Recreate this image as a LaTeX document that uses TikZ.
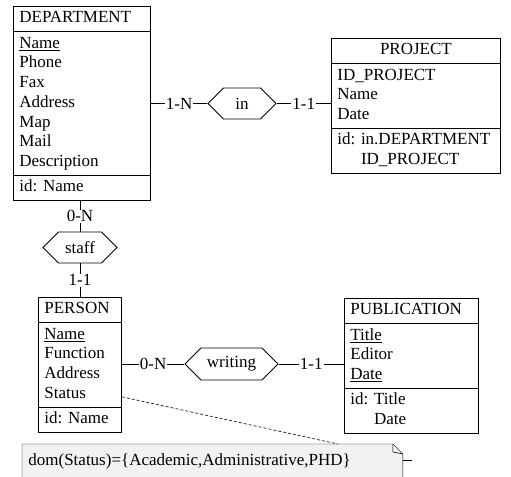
\documentclass[tikz,border=0pt]{standalone}
\usepackage{fontspec}
\setmainfont{Liberation Serif}
\usetikzlibrary{shapes.multipart,shapes.symbols,backgrounds}
\frenchspacing

\begin{document}
\begin{tikzpicture}[x=1bp,y=-1bp,line width=0.8bp,
                    font=\fontsize{17bp}{19.7bp}\selectfont]

  \tikzstyle{entity}=[rectangle split,rectangle split parts=3,draw,anchor=north west,
                      align=left,inner xsep=6bp,inner ysep=2.4bp]
  \tikzstyle{rel}=[signal,signal to=east and west,draw,inner sep=0pt]
  \tikzstyle{card}=[fill=white,inner sep=1bp]
  \tikzstyle{memo}=[anchor=north west,text width=368bp,minimum height=35bp,
                    inner xsep=6bp,align=left]

  \useasboundingbox (0,0) rectangle (511,477);

  \node[entity,text width=125bp] (DEP) at (13,6)
    {\strut DEPARTMENT
     \nodepart{two}\strut\underline{Name}\\Phone\\Fax\\Address\\Map\\Mail\\Description\strut
     \nodepart{three}\strut id: Name};
  \node[entity,text width=157bp] (PRJ) at (331,38)
    {\centerline{\strut PROJECT}
     \nodepart{two}\strut ID\_PROJECT\\Name\\Date\strut
     \nodepart{three}\strut id: in.DEPARTMENT\\\phantom{id: }ID\_PROJECT\strut};
  \node[entity,text width=71bp]  (PER) at (38,297)
    {\strut PERSON
     \nodepart{two}\strut\underline{Name}\\Function\\Address\\Status\strut
     \nodepart{three}\strut id: Name};
  \node[entity,text width=122bp] (PUB) at (344,298)
    {\strut PUBLICATION
     \nodepart{two}\strut\underline{Title}\\Editor\\\underline{Date}\strut
     \nodepart{three}\strut id: Title\\\phantom{id: }Date\strut};

  \node[rel,minimum width=68bp,minimum height=31bp] (in)      at (242,103.5) {in};
  \node[rel,minimum width=74bp,minimum height=31bp] (staff)   at (80,247.5)  {staff};
  \node[rel,minimum width=93bp,minimum height=32bp] (writing) at (231.5,364) {writing};

  \path[draw]
  (in.west -| DEP.east)        -- node[card] {1-N} (in.west)
  (in.east)                    -- node[card] {1-1} (in.east -| PRJ.west)
  (staff.north |- DEP.south)   -- node[card] {0-N} (staff.north)
  (staff.south)                -- node[card] {1-1} (staff.south |- PER.north)
  (writing.west -| PER.east)   -- node[card] {0-N} (writing.west)
  (writing.east)               -- node[card] {1-1} (writing.east -| PUB.west)
  ;

  \node[memo] (note) at (22,444) {dom(Status)=\{Academic,Administrative,PHD\}};
  \begin{scope}[on background layer]
    \draw[fill=gray!10] (note.south west) -- (note.north west)
      -- ([xshift=-10bp]note.north east) -- ([yshift=-10bp]note.north east)
      -- (note.south east) -- cycle;
  \end{scope}
  \draw[line width=0.6bp] ([xshift=-10bp]note.north east) -- ++(0,8)
    -- ([yshift=-10bp]note.north east);
  \draw[line width=0.6bp] ([yshift=1.5bp]note.east) -- ++(9,0);

  \coordinate (status) at ([yshift=36bp]PER.south east);
  \coordinate (tip)    at ([xshift=-65bp]note.north east);
  \draw[line width=0.6bp,dash pattern=on 3bp off 2bp] (status) -- (tip);
\end{tikzpicture}
\end{document}
